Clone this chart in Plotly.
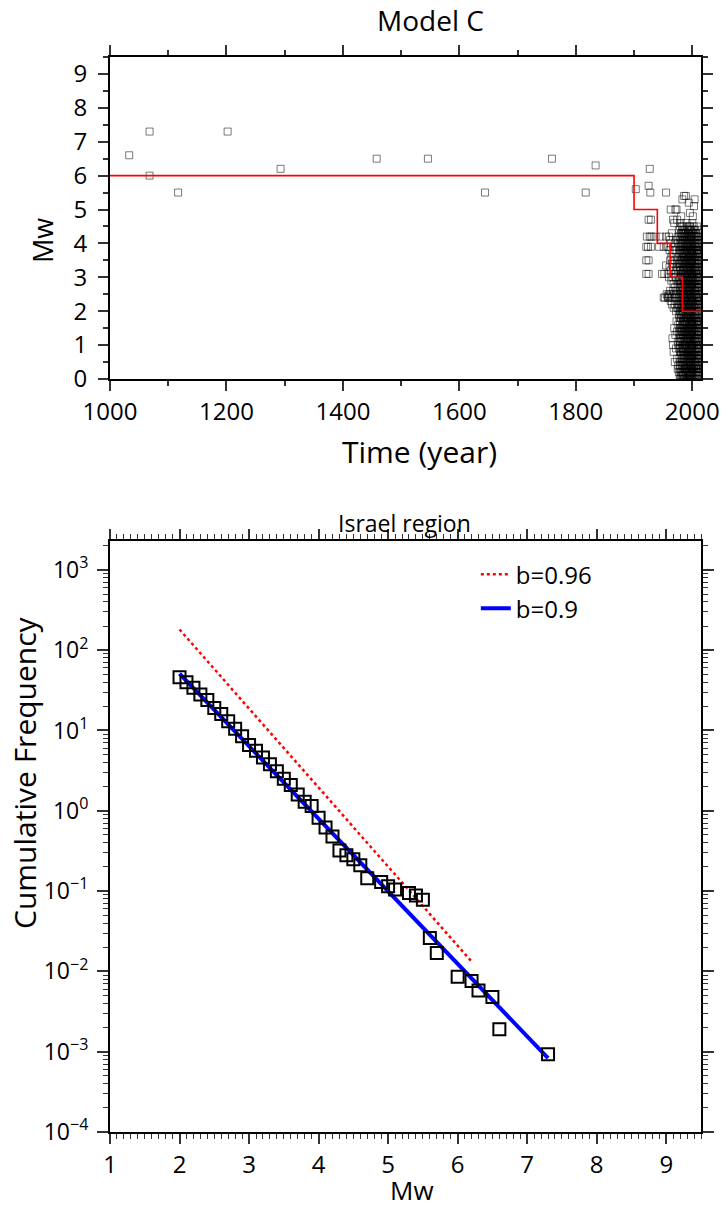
import plotly.graph_objects as go

# ---------------- Top panel: Model C (time vs magnitude) ----------------
hist_year = [1033, 1068, 1068, 1117, 1202, 1293, 1458, 1546, 1644, 1759, 1817, 1834,
             1903, 1925, 1927, 1928, 1955, 1925, 1929, 1922, 1927, 1930, 1937, 1945, 1955,
             1921, 1924, 1929, 1943, 1951, 1957, 1921, 1925, 1921, 1925, 1948, 1952, 1955,
             1951, 1953, 1956, 1958]
hist_mw = [6.6, 7.3, 6.0, 5.5, 7.3, 6.2, 6.5, 6.5, 5.5, 6.5, 5.5, 6.3,
           5.6, 5.7, 6.2, 5.5, 5.5, 4.7, 4.7, 4.2, 4.2, 4.2, 4.2, 4.2, 4.2,
           3.9, 3.9, 3.9, 3.9, 3.9, 3.9, 3.5, 3.5, 3.1, 3.1, 3.1, 3.1, 3.35,
           2.4, 2.4, 2.5, 2.45]

recent_years = list(range(1958, 2013))
recent_mw = [
    [2.4, 3.1],
    [2.4, 3.9],
    [2.5, 3.0, 4.2],
    [2.4, 3.3, 3.8],
    [2.6, 3.5, 4.1],
    [2.3, 3.2, 4.0, 5.0],
    [2.5, 2.9, 3.6],
    [2.2, 3.4, 4.3],
    [2.4, 3.0, 3.7, 1.2],
    [2.6, 3.3, 4.7, 1.0],
    [2.1, 2.8, 3.9, 0.8],
    [2.5, 3.1, 4.6, 1.5],
    [2.2, 2.7, 3.5, 4.0, 0.5],
    [2.4, 3.0, 3.8, 5.0, 1.3],
    [2.0, 2.6, 3.2, 4.1, 0.9],
    [2.3, 2.9, 3.6, 5.0, 1.7],
    [2.1, 2.5, 3.3, 4.7, 0.6, 1.4],
    [2.2, 2.8, 3.4, 4.2, 1.1, 0.3],
    [0.4, 1.0, 1.6, 2.1, 2.6, 3.1, 3.6, 4.0],
    [0.2, 0.9, 1.4, 1.9, 2.4, 2.9, 3.4, 3.9, 4.4],
    [0.6, 1.2, 1.8, 2.2, 2.7, 3.2, 3.7, 4.2],
    [0.3, 0.8, 1.3, 1.7, 2.3, 2.8, 3.3, 3.8, 4.5],
    [0.5, 1.1, 1.5, 2.0, 2.5, 3.0, 3.5, 4.1, 4.6],
    [0.1, 0.7, 1.2, 1.8, 2.2, 2.6, 3.1, 3.6, 4.0, 4.8],
    [0.4, 0.9, 1.4, 1.9, 2.4, 2.9, 3.4, 3.9, 4.3],
    [0.2, 0.6, 1.0, 1.5, 2.0, 2.3, 2.7, 3.2, 3.7, 4.2, 5.3],
    [0.1, 0.4, 0.8, 1.1, 1.5, 1.8, 2.2, 2.5, 2.9, 3.2, 3.6, 3.9, 4.3],
    [0.2, 0.6, 0.9, 1.3, 1.6, 2.0, 2.3, 2.7, 3.0, 3.4, 3.7, 4.1, 4.5],
    [0.0, 0.3, 0.7, 1.0, 1.4, 1.7, 2.1, 2.4, 2.8, 3.1, 3.5, 3.8, 4.2, 5.4],
    [0.1, 0.5, 0.8, 1.2, 1.5, 1.9, 2.2, 2.6, 2.9, 3.3, 3.6, 4.0, 4.4],
    [0.3, 0.6, 1.0, 1.3, 1.7, 2.0, 2.4, 2.7, 3.1, 3.4, 3.8, 4.1],
    [0.2, 0.4, 0.8, 1.1, 1.4, 1.8, 2.1, 2.5, 2.8, 3.2, 3.5, 3.9, 4.3, 5.4],
    [0.1, 0.5, 0.9, 1.2, 1.6, 1.9, 2.3, 2.6, 3.0, 3.3, 3.7, 4.0, 4.6],
    [0.0, 0.3, 0.7, 1.1, 1.4, 1.8, 2.1, 2.5, 2.8, 3.2, 3.5, 3.9, 4.2],
    [0.2, 0.6, 0.9, 1.3, 1.7, 2.0, 2.4, 2.7, 3.1, 3.4, 3.8, 4.1, 4.5],
    [0.1, 0.4, 0.8, 1.2, 1.5, 1.9, 2.2, 2.6, 2.9, 3.3, 3.6, 4.0, 4.4],
    [0.3, 0.7, 1.0, 1.4, 1.7, 2.1, 2.4, 2.8, 3.1, 3.5, 3.8, 4.2, 5.2],
    [0.0, 0.2, 0.6, 0.9, 1.3, 1.6, 2.0, 2.3, 2.7, 3.0, 3.4, 3.7, 4.1, 4.5],
    [0.1, 0.5, 0.8, 1.2, 1.5, 1.9, 2.2, 2.6, 2.9, 3.3, 3.6, 4.0, 4.9],
    [0.3, 0.6, 1.0, 1.3, 1.7, 2.0, 2.4, 2.7, 3.1, 3.4, 3.8, 4.1, 4.4],
    [0.2, 0.4, 0.7, 1.1, 1.4, 1.8, 2.1, 2.5, 2.8, 3.2, 3.5, 3.9, 4.2],
    [0.1, 0.5, 0.9, 1.2, 1.6, 1.9, 2.3, 2.6, 3.0, 3.3, 3.7, 4.0, 4.3],
    [0.0, 0.3, 0.7, 1.0, 1.4, 1.7, 2.1, 2.4, 2.8, 3.1, 3.5, 3.8, 4.2, 4.6],
    [0.2, 0.6, 0.9, 1.3, 1.6, 2.0, 2.3, 2.7, 3.0, 3.4, 3.7, 4.1, 4.8],
    [0.1, 0.4, 0.8, 1.1, 1.5, 1.8, 2.2, 2.5, 2.9, 3.2, 3.6, 3.9, 4.3],
    [0.3, 0.7, 1.0, 1.4, 1.7, 2.1, 2.4, 2.8, 3.1, 3.5, 3.8, 4.2, 5.1],
    [0.0, 0.2, 0.5, 0.9, 1.2, 1.6, 1.9, 2.3, 2.6, 3.0, 3.3, 3.7, 4.0, 5.3],
    [0.1, 0.5, 0.8, 1.2, 1.5, 1.9, 2.2, 2.6, 2.9, 3.3, 3.6, 4.0, 4.4],
    [0.3, 0.6, 1.0, 1.3, 1.7, 2.0, 2.4, 2.7, 3.1, 3.4, 3.8, 4.1],
    [0.2, 0.4, 0.8, 1.1, 1.5, 1.8, 2.2, 2.5, 2.9, 3.2, 3.6, 3.9, 4.3],
    [0.1, 0.5, 0.9, 1.2, 1.6, 1.9, 2.3, 2.6, 3.0, 3.3, 3.7, 4.0, 4.5],
    [0.0, 0.3, 0.7, 1.0, 1.4, 1.7, 2.1, 2.4, 2.8, 3.1, 3.5, 3.8, 4.2],
    [0.2, 0.6, 0.9, 1.3, 1.6, 2.0, 2.3, 2.7, 3.0, 3.4, 3.7, 4.1],
    [0.1, 0.4, 0.8, 1.1, 1.5, 1.8, 2.2, 2.5, 2.9, 3.2, 3.6, 3.9],
    [0.3, 0.7, 1.0, 1.4, 1.7, 2.1, 2.4, 2.8, 3.1, 3.5],
]

# second batch of instrumental events (mid-year)
recent2_years = [1978.5, 1979.5, 1980.5, 1981.5, 1982.5, 1983.5, 1984.5, 1985.5, 1986.5,
                 1987.5, 1988.5, 1989.5, 1990.5, 1991.5, 1992.5, 1993.5, 1994.5, 1995.5,
                 1996.5, 1997.5, 1998.5, 1999.5, 2000.5, 2001.5, 2002.5, 2003.5, 2004.5,
                 2005.5, 2006.5, 2007.5, 2008.5, 2009.5, 2010.5, 2011.5]
recent2_mw = [
    [0.1, 0.4, 1.0, 1.5, 2.0, 2.5, 2.9, 3.4, 3.9],
    [0.0, 0.5, 1.1, 1.5, 2.0, 2.6, 3.1, 3.5, 4.1],
    [0.2, 0.8, 1.3, 1.8, 2.3, 2.8, 3.2, 3.8, 4.3],
    [0.3, 0.9, 1.4, 2.0, 2.4, 2.9, 3.4, 3.8, 4.3],
    [0.1, 0.6, 1.1, 1.6, 2.1, 2.6, 3.1, 3.6, 4.1, 4.5],
    [0.0, 0.4, 0.8, 1.3, 1.7, 2.1, 2.5, 3.0, 3.4, 3.9, 4.4],
    [0.2, 0.6, 1.0, 1.3, 1.7, 2.0, 2.4, 2.7, 3.1, 3.4, 3.8, 4.1],
    [0.0, 0.4, 0.8, 1.1, 1.5, 1.8, 2.2, 2.5, 2.9, 3.2, 3.6, 3.9, 4.3],
    [0.1, 0.5, 0.9, 1.2, 1.6, 1.9, 2.3, 2.6, 3.0, 3.3, 3.7, 4.0, 4.4],
    [0.3, 0.7, 1.0, 1.4, 1.7, 2.1, 2.4, 2.8, 3.1, 3.5, 3.8, 4.2],
    [0.1, 0.4, 0.8, 1.1, 1.5, 1.8, 2.2, 2.5, 2.9, 3.2, 3.6, 3.9, 4.3],
    [0.0, 0.3, 0.6, 1.0, 1.3, 1.6, 2.0, 2.3, 2.7, 3.0, 3.4, 3.7, 4.1],
    [0.3, 0.7, 1.0, 1.4, 1.7, 2.1, 2.4, 2.8, 3.1, 3.5, 3.8, 4.2],
    [0.2, 0.5, 0.9, 1.2, 1.6, 1.9, 2.3, 2.6, 3.0, 3.3, 3.7, 4.0, 4.4],
    [0.0, 0.4, 0.7, 1.1, 1.5, 1.8, 2.2, 2.5, 2.9, 3.2, 3.6, 3.9, 4.3],
    [0.3, 0.6, 1.0, 1.3, 1.7, 2.0, 2.4, 2.7, 3.1, 3.4, 3.8, 4.2],
    [0.1, 0.5, 0.8, 1.2, 1.5, 1.9, 2.2, 2.6, 2.9, 3.3, 3.6, 4.0, 4.4],
    [0.1, 0.4, 0.7, 1.1, 1.4, 1.8, 2.1, 2.5, 2.8, 3.2, 3.5, 3.9, 4.3],
    [0.3, 0.6, 1.0, 1.3, 1.7, 2.0, 2.4, 2.7, 3.1, 3.4, 3.8, 4.2, 4.5],
    [0.1, 0.4, 0.8, 1.1, 1.5, 1.8, 2.2, 2.5, 2.9, 3.2, 3.6, 3.9, 4.2],
    [0.0, 0.3, 0.6, 0.9, 1.3, 1.6, 2.0, 2.3, 2.7, 3.0, 3.4, 3.7, 4.1, 4.4],
    [0.3, 0.7, 1.0, 1.4, 1.7, 2.1, 2.4, 2.8, 3.1, 3.5, 3.8, 4.2],
    [0.2, 0.5, 0.9, 1.2, 1.6, 1.9, 2.3, 2.6, 3.0, 3.3, 3.7, 4.0, 4.4],
    [0.0, 0.4, 0.7, 1.1, 1.5, 1.8, 2.2, 2.5, 2.9, 3.2, 3.6, 3.9, 4.3],
    [0.3, 0.6, 1.0, 1.3, 1.7, 2.0, 2.4, 2.7, 3.1, 3.4, 3.8, 4.1, 4.5],
    [0.1, 0.5, 0.8, 1.2, 1.5, 1.9, 2.2, 2.6, 2.9, 3.3, 3.6, 4.0, 4.4],
    [0.4, 0.7, 1.1, 1.4, 1.8, 2.1, 2.5, 2.8, 3.2, 3.5, 3.9, 4.2],
    [0.3, 0.6, 1.0, 1.3, 1.7, 2.0, 2.4, 2.7, 3.1, 3.4, 3.8, 4.2],
    [0.1, 0.4, 0.8, 1.1, 1.5, 1.8, 2.2, 2.5, 2.9, 3.2, 3.6, 3.9, 4.3],
    [0.0, 0.3, 0.6, 1.0, 1.3, 1.7, 2.0, 2.4, 2.7, 3.1, 3.4, 3.8, 4.1],
    [0.3, 0.7, 1.0, 1.4, 1.7, 2.1, 2.4, 2.8, 3.1, 3.5, 3.8, 4.2],
    [0.2, 0.5, 0.9, 1.2, 1.6, 1.9, 2.3, 2.6, 3.0, 3.3, 3.7, 4.0, 4.4],
    [0.0, 0.4, 0.7, 1.1, 1.4, 1.8, 2.1, 2.5, 2.8, 3.2, 3.5, 3.9, 4.3],
    [0.2, 0.6, 0.9, 1.3, 1.6, 2.0, 2.3, 2.7, 3.0, 3.4, 3.7, 4.0],
]

mc_year = [1000, 1900, 1940, 1962, 1983, 2015]
mc_mw = [6, 5, 4, 3, 2, 2]

# ---------------- Bottom panel: Israel region FMD ----------------
fmd_mw = [2.0, 2.1, 2.2, 2.3, 2.4, 2.5, 2.6, 2.7, 2.8, 2.9,
          3.0, 3.1, 3.2, 3.3, 3.4, 3.5, 3.6, 3.7, 3.8, 3.9,
          4.0, 4.1, 4.2, 4.3, 4.4, 4.5, 4.6, 4.7, 4.9, 5.0,
          5.1, 5.3, 5.4, 5.5, 5.6, 5.7, 6.0, 6.2, 6.3, 6.5, 6.6, 7.3]
fmd_cum = [46, 40, 34, 28, 24, 19, 16, 13, 10.5, 8.5,
           6.6, 5.6, 4.6, 3.8, 3.1, 2.5, 2.1, 1.6, 1.3, 1.15,
           0.82, 0.62, 0.48, 0.32, 0.28, 0.25, 0.21, 0.145, 0.13, 0.115,
           0.105, 0.095, 0.088, 0.078, 0.026, 0.017, 0.0086, 0.0076, 0.0058, 0.0048, 0.0019, 0.00093]

fit96_mw = [2.0, 6.2]
fit96_n = [181, 0.0133]
fit90_mw = [2.0, 7.3]
fit90_n = [51, 0.00083]

log_tickvals = [1e-4, 1e-3, 1e-2, 1e-1, 1e0, 1e1, 1e2, 1e3]
log_ticktext = ["10<sup>−4</sup>", "10<sup>−3</sup>", "10<sup>−2</sup>", "10<sup>−1</sup>",
                "10<sup>0</sup>", "10<sup>1</sup>", "10<sup>2</sup>", "10<sup>3</sup>"]

FONT = "Open Sans"

# flatten catalogue
rx, ry = [], []
for yr, mags in list(zip(recent_years, recent_mw)) + list(zip(recent2_years, recent2_mw)):
    for m in mags:
        rx.append(yr)
        ry.append(m)

fig = go.Figure()

sq_col = "rgba(0,0,0,0.52)"
fig.add_trace(go.Scatter(x=hist_year + rx, y=hist_mw + ry, mode="markers",
                         marker=dict(symbol="square-open", size=7, color=sq_col,
                                     line=dict(color=sq_col, width=1)),
                         xaxis="x", yaxis="y", showlegend=False))
fig.add_trace(go.Scatter(x=mc_year, y=mc_mw, mode="lines", line=dict(color="red", width=1.6, shape="hv"),
                         xaxis="x", yaxis="y", showlegend=False))

fig.add_trace(go.Scatter(x=fit96_mw, y=fit96_n, mode="lines", name="b=0.96",
                         line=dict(color="red", width=2.5, dash="dot"), xaxis="x2", yaxis="y2"))
fig.add_trace(go.Scatter(x=fit90_mw, y=fit90_n, mode="lines", name="b=0.9",
                         line=dict(color="blue", width=4), xaxis="x2", yaxis="y2"))
fig.add_trace(go.Scatter(x=fmd_mw, y=fmd_cum, mode="markers", showlegend=False,
                         marker=dict(symbol="square-open", size=12, color="black",
                                     line=dict(color="black", width=2)),
                         xaxis="x2", yaxis="y2"))

def axstyle(size):
    return dict(showline=True, linecolor="black", linewidth=2, mirror="ticks", ticks="outside",
                tickcolor="#333", tickwidth=1.5, showgrid=False, zeroline=False, automargin=False,
                tickfont=dict(family=FONT, size=size, color="black"))

minor_log = [m * 10.0 ** e for e in range(-4, 4) for m in range(2, 10)]

fig.update_layout(
    width=721, height=1214, autosize=False,
    margin=dict(l=110, r=20, t=57, b=82, autoexpand=False),
    paper_bgcolor="white", plot_bgcolor="white",
    font=dict(family=FONT, color="black"),
    xaxis=dict(domain=[0, 1], anchor="y", range=[1000, 2015], tick0=1000, dtick=200, ticklen=10,
               minor=dict(dtick=100, ticks="outside", ticklen=5, tickcolor="#333", tickwidth=1.5),
               **axstyle(24)),
    yaxis=dict(domain=[0.7005, 1], anchor="x", range=[0, 9.5], tick0=0, dtick=1, ticklen=10,
               ticklabelstandoff=6,
               minor=dict(dtick=0.5, ticks="outside", ticklen=5, tickcolor="#333", tickwidth=1.5),
               **axstyle(24)),
    xaxis2=dict(domain=[0, 1], anchor="y2", range=[1, 9.5], tick0=1, dtick=1, ticklen=10,
                minor=dict(dtick=0.1, ticks="outside", ticklen=5, tickcolor="#333", tickwidth=1.2),
                **axstyle(24)),
    yaxis2=dict(domain=[0, 0.5498], anchor="x2", type="log", range=[-4, 3.36],
                tickmode="array", tickvals=log_tickvals, ticktext=log_ticktext, ticklen=11,
                ticklabelstandoff=4,
                minor=dict(tickmode="array", tickvals=minor_log, ticks="outside", ticklen=5,
                           tickcolor="#333", tickwidth=1.2),
                **axstyle(23)),
    legend=dict(x=0.619, y=0.5395, xanchor="left", yanchor="top", bgcolor="rgba(0,0,0,0)",
                font=dict(family=FONT, size=24, color="black"), tracegroupgap=0),
)

def ann(text, x, y, size, angle=0):
    fig.add_annotation(text=text, x=x, y=y, xref="paper", yref="paper", showarrow=False,
                       xanchor="center", yanchor="middle", textangle=angle,
                       font=dict(family=FONT, size=size, color="black"))

ann("Model C", 0.5415, 1.0344, 28)
ann("Time (year)", 0.5245, 0.6326, 30)
ann("Mw", -0.1134, 0.8298, 27, -90)
ann("Israel region", 0.4975, 0.5665, 23)
ann("Mw", 0.511, -0.054, 26)
ann("Cumulative Frequency", -0.1438, 0.334, 30, -90)

fig.write_html("out.html", config={"displayModeBar": False},
               post_script="document.body.style.margin='0';document.body.style.overflow='hidden';")
